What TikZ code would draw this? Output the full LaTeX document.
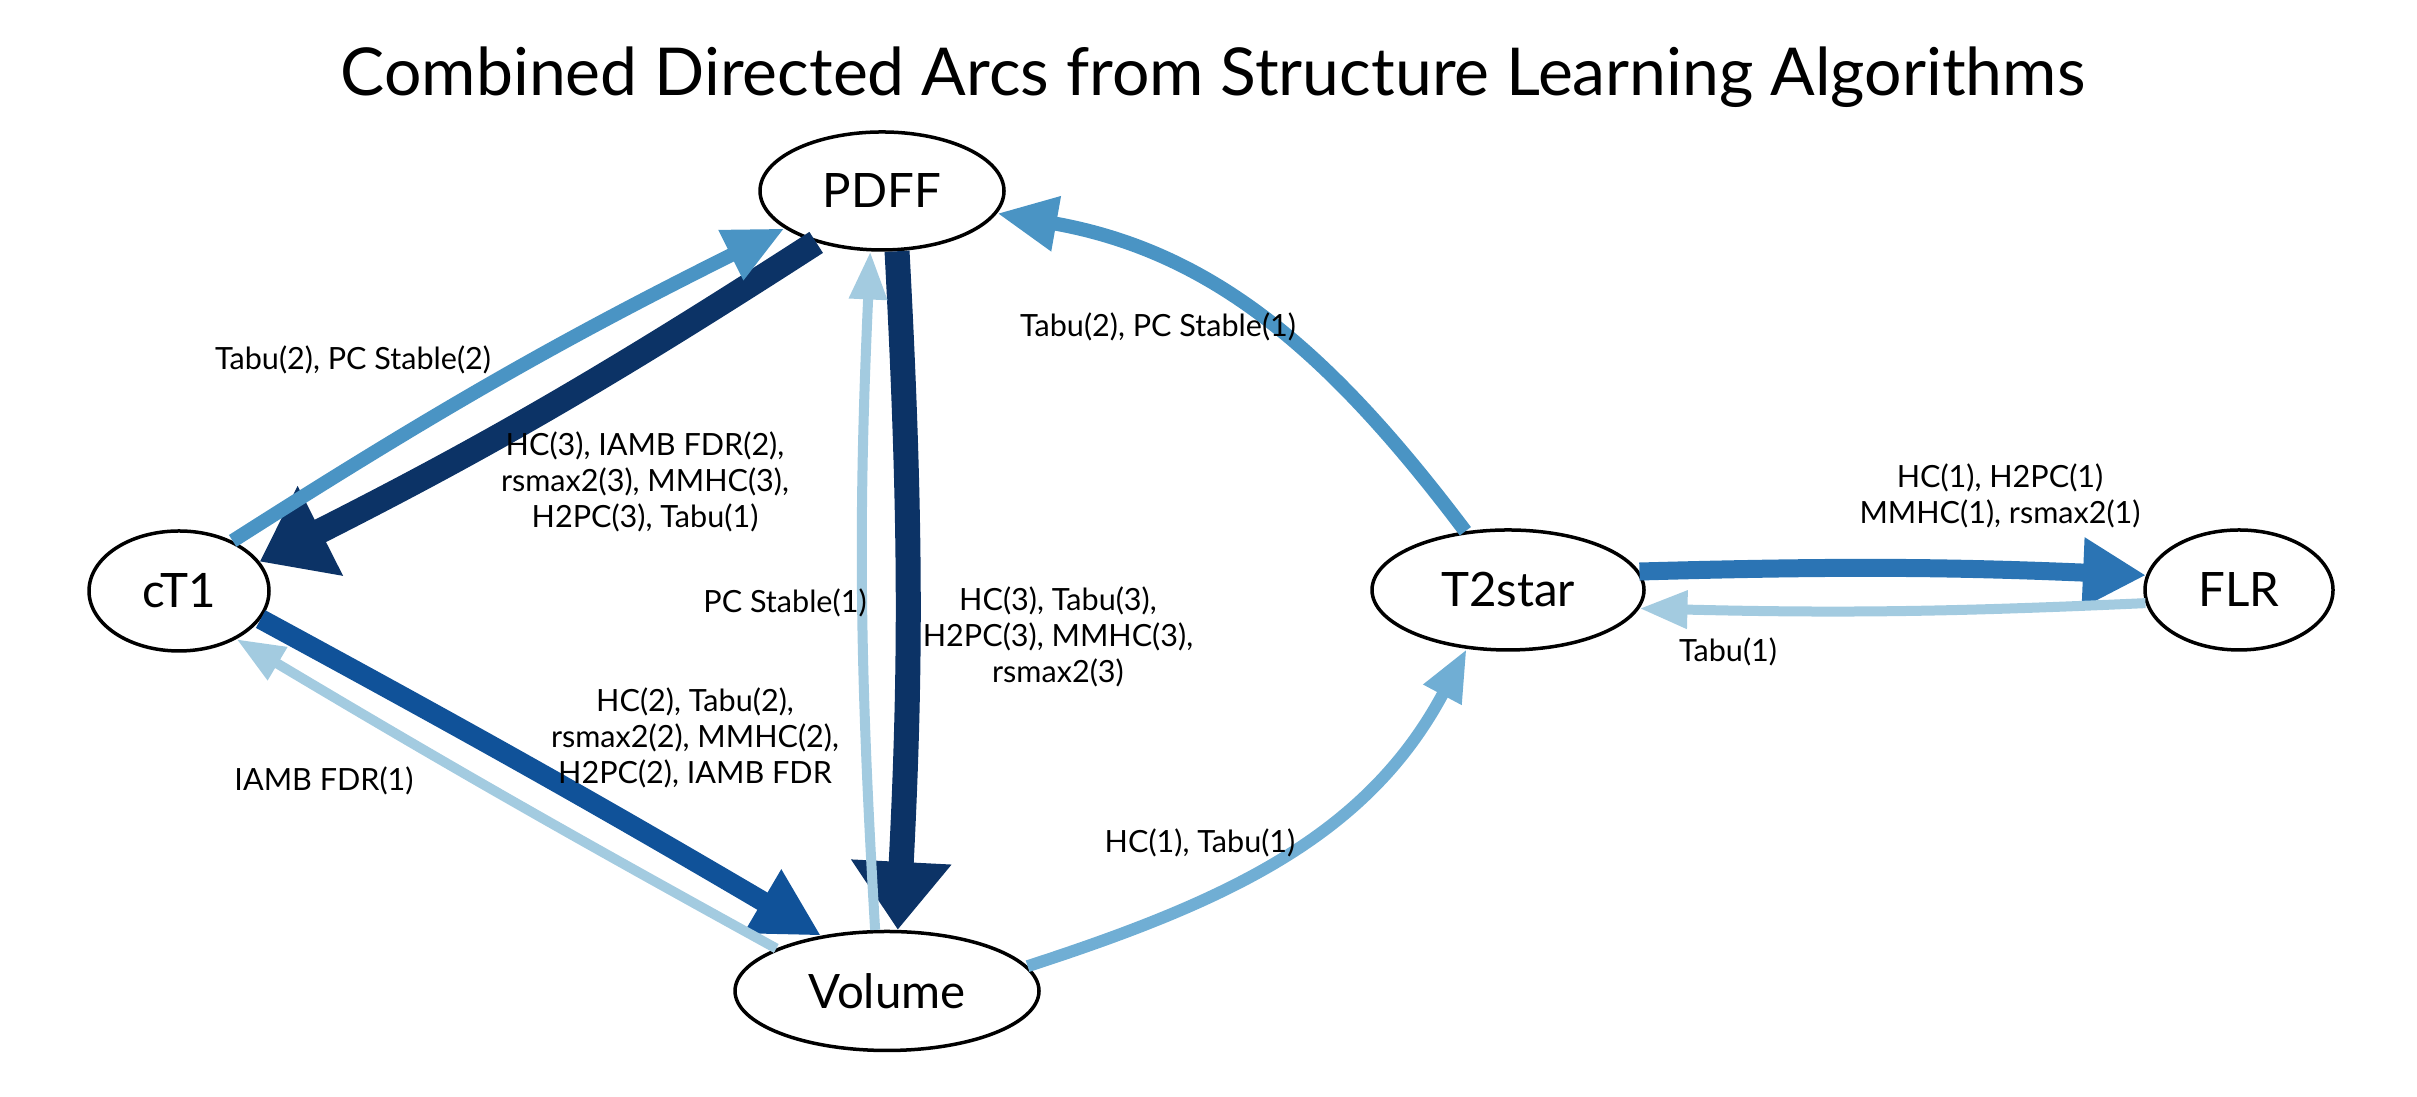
\documentclass[tikz,border=0pt]{standalone}
\usepackage{fontspec}
\setmainfont{Lato}
\usetikzlibrary{arrows.meta,shapes.geometric}
\definecolor{bluesix}{RGB}{12,51,102}
\definecolor{bluefive}{RGB}{16,82,153}
\definecolor{bluefour}{RGB}{43,116,180}
\definecolor{bluetwo}{RGB}{74,148,196}
\definecolor{bluetwob}{RGB}{112,174,212}
\definecolor{blueone}{RGB}{163,203,224}
\tikzset{
	var/.style={draw,ellipse,line width=0.35mm,fill=white,inner sep=0pt,font=\fontsize{13.5}{15}\selectfont},
	lbl/.style={align=center,inner sep=0pt,font=\fontsize{8.7}{10.2}\selectfont},
	arcsix/.style={draw=bluesix,line width=2.5mm,-{Triangle[length=6.8mm,width=9.6mm]}},
	arcfive/.style={draw=bluefive,line width=2mm,-{Triangle[length=6.8mm,width=6.9mm]}},
	arcfour/.style={draw=bluefour,line width=1.8mm,-{Triangle[length=6.3mm,width=6.6mm]}},
	arctwo/.style={draw=bluetwo,line width=1.4mm,-{Triangle[length=6mm,width=5.2mm]}},
	arctwob/.style={draw=bluetwob,line width=1.2mm,-{Triangle[length=5.2mm,width=4mm]}},
	arcone/.style={draw=blueone,line width=1mm,-{Triangle[length=4.8mm,width=3.6mm]}}
}
\begin{document}
\begin{tikzpicture}[x=0.1mm,y=0.1mm]
	\useasboundingbox (0,0) rectangle (2417,1097);
	\node (title) at (1213,1020) {\fontsize{18.8}{20}\selectfont Combined Directed Arcs from Structure Learning Algorithms};
	\node[var,minimum width=24.4mm,minimum height=11.8mm] (PDFF) at (882,906) {PDFF};
	\node[var,minimum width=18mm,minimum height=12mm] (cT1) at (179,506) {cT1};
	\node[var,minimum width=30.4mm,minimum height=11.9mm] (Volume) at (887,106) {Volume};
	\node[var,minimum width=27.2mm,minimum height=12mm] (T2star) at (1508,507) {T2star};
	\node[var,minimum width=18.8mm,minimum height=12mm] (FLR) at (2239,507) {FLR};
	\draw[arcsix] (PDFF.218) to[bend left=3] (cT1.20);
	\draw[arcsix] (PDFF.284) to[bend left=3] (Volume.80);
	\draw[arcfive] (cT1.341) to[bend left=1] (Volume.140);
	\draw[arcfour] (T2star.8) to[bend left=2] (FLR.171);
	\draw[arctwo] (cT1.43) to[bend left=3] (PDFF.201);
	\draw[arctwo] (T2star.126) to[out=127,in=350] (PDFF.349);
	\draw[arctwob] (Volume.10) to[out=18,in=242] (T2star.235);
	\draw[arcone] (Volume.101) to[bend left=3] (PDFF.259);
	\draw[arcone] (Volume.159) to[bend left=1] (cT1.320);
	\draw[arcone] (FLR.188) to[bend left=2] (T2star.352);
	\node[lbl] (cT1PDFF) at (353,737) {Tabu(2), PC Stable(2)};
	\node[lbl] (PDFFcT1) at (645,615) {HC(3), IAMB FDR(2),\\rsmax2(3), MMHC(3),\\H2PC(3), Tabu(1)};
	\node[lbl] (VolumePDFF) at (785,494) {PC Stable(1)};
	\node[lbl] (PDFFVolume) at (1058,460) {HC(3), Tabu(3),\\H2PC(3), MMHC(3),\\rsmax2(3)};
	\node[lbl] (cT1Volume) at (695,359) {HC(2), Tabu(2),\\rsmax2(2), MMHC(2),\\H2PC(2), IAMB FDR};
	\node[lbl] (VolumecT1) at (324,316) {IAMB FDR(1)};
	\node[lbl] (T2starPDFF) at (1158,770) {Tabu(2), PC Stable(1)};
	\node[lbl] (T2starFLR) at (2000,601) {HC(1), H2PC(1)\\MMHC(1), rsmax2(1)};
	\node[lbl] (FLRT2star) at (1728,445) {Tabu(1)};
	\node[lbl] (VolumeT2star) at (1200,254) {HC(1), Tabu(1)};
\end{tikzpicture}
\end{document}
